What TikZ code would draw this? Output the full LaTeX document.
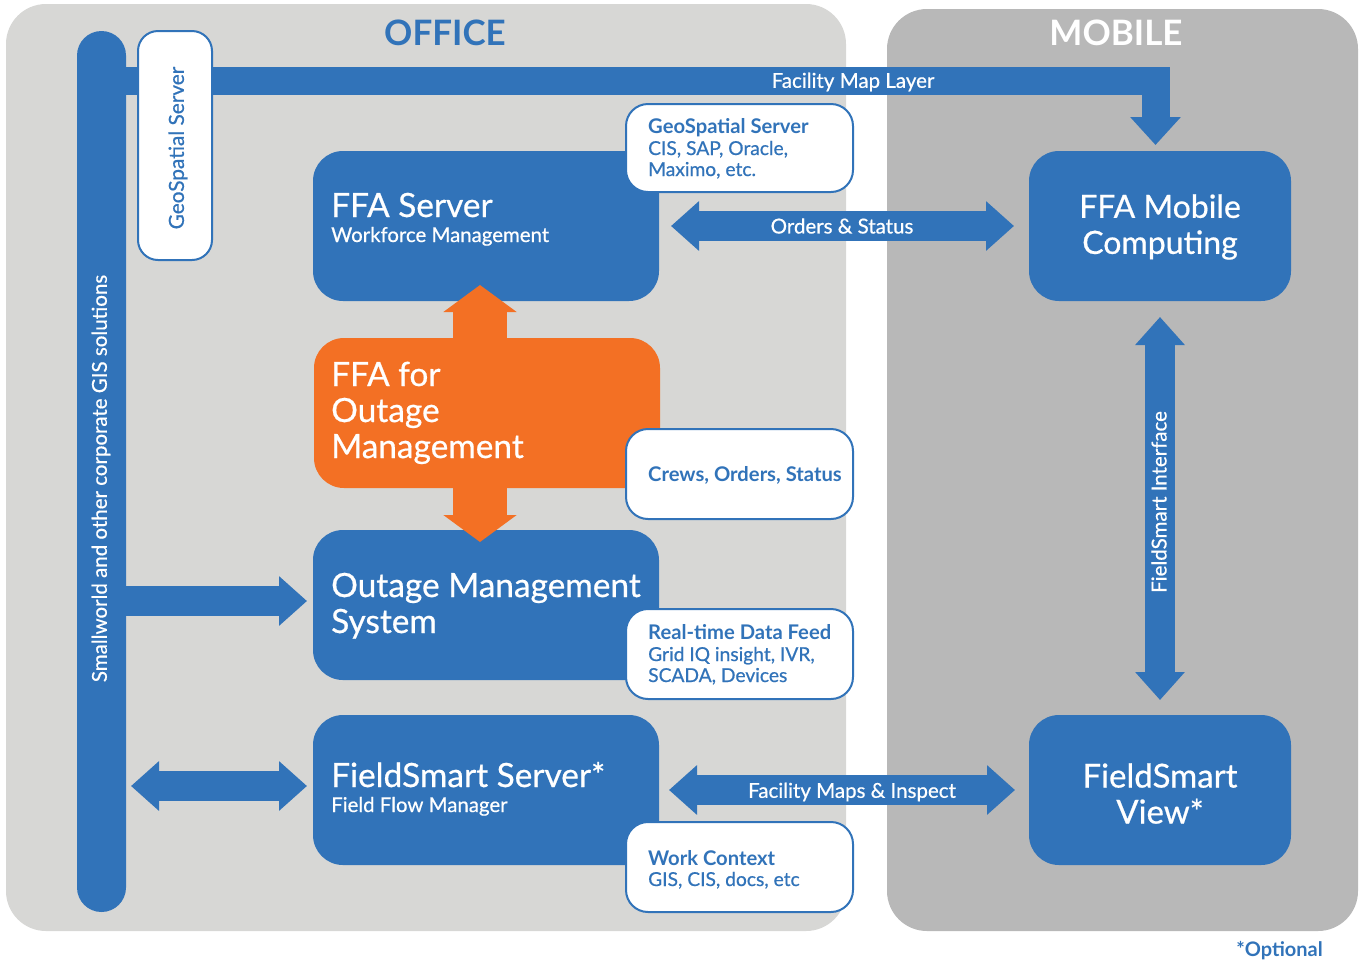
\documentclass[tikz,border=0pt]{standalone}
\usepackage{fontspec}
\setmainfont{Lato}[RawFeature={embolden=0.6},BoldFeatures={RawFeature={embolden=0.0}}]
\usetikzlibrary{arrows.meta}
\definecolor{ge}{HTML}{3173B9}
\definecolor{og}{HTML}{F37024}
\definecolor{off}{HTML}{D7D7D5}
\definecolor{mob}{HTML}{B8B8B8}
\newcommand{\fsz}[1]{\fontsize{#1}{#1}\selectfont}
\tikzset{
  panel/.style={inner sep=0,outer sep=0,rounded corners=40pt},
  sbox/.style={fill=ge,inner sep=0,outer sep=0,rounded corners=30pt},
  callout/.style={fill=white,draw=ge,line width=2pt,inner sep=0,outer sep=0,rounded corners=22pt,minimum width=227pt},
  wtxt/.style={text=white,inner sep=0,anchor=base west},
  btxt/.style={text=ge,inner sep=0,anchor=base west},
  headtxt/.style={inner sep=0,font=\fsz{35}\bfseries},
  midtxt/.style={text=white,inner sep=0,font=\fsz{20.5}},
  ttltxt/.style={font=\fsz{33.4}},
  subtxt/.style={font=\fsz{20.4}},
  captxt/.style={font=\fsz{19.2}},
  capbold/.style={font=\fsz{20.2}\bfseries},
  blockb/.style={draw=ge,line width=30pt,{Triangle[length=28pt,width=48pt]}-{Triangle[length=28pt,width=48pt]}},
  blockf/.style={draw=ge,line width=30pt,-{Triangle[length=28pt,width=48pt]}},
  blocko/.style={draw=og,line width=54pt,{Triangle[length=27pt,width=72pt]}-{Triangle[length=27pt,width=72pt]}},
  blockt/.style={draw=ge,line width=28pt,-{Triangle[length=28pt,width=49pt]}},
}
\begin{document}
\begin{tikzpicture}[x=1pt,y=-1pt]
\useasboundingbox (0,0) rectangle (1359,962);
\node[panel,fill=off,minimum width=840pt,minimum height=927pt] (office) at (426,467.5) {};
\node[panel,fill=mob,minimum width=471pt,minimum height=922pt] (mobile) at (1122.5,470) {};
\node[headtxt,text=ge] (officet) at (445,33) {OFFICE};
\node[headtxt,text=white] (mobilet) at (1116,33) {MOBILE};

\node[fill=ge,inner sep=0,outer sep=0,rounded corners=24.5pt,minimum width=49pt,minimum height=881pt] (gis) at (101.5,471.5) {};
\node[sbox,minimum width=346pt,minimum height=150pt] (ffas) at (486,226) {};
\node[sbox,fill=og,minimum width=346pt,minimum height=150pt] (ffao) at (487,413) {};
\node[sbox,minimum width=346pt,minimum height=150pt] (oms) at (486,605) {};
\node[sbox,minimum width=346pt,minimum height=150pt] (fss) at (486,790) {};
\node[sbox,minimum width=262pt,minimum height=150pt] (ffam) at (1160,226) {};
\node[sbox,minimum width=262pt,minimum height=150pt] (fsv) at (1160,790) {};

\coordinate (rowa) at (0,81);
\coordinate (rowb) at (0,601);
\coordinate (rowc) at (0,786);
\coordinate (cola) at (1155.5,0);
\coordinate (colb) at (480,0);

\draw[blockt,shorten >=6pt] (gis.east |- rowa) -- (cola |- rowa) -- (cola |- ffam.north);
\draw[blockb,shorten <=12pt,shorten >=15pt] (ffas.east) -- (ffam.west);
\draw[blockb,shorten <=10pt,shorten >=14pt] (fss.east) -- (fsv.west);
\draw[blockb,shorten <=16pt,shorten >=15pt] (ffam.south) -- (fsv.north);
\draw[blockf,shorten >=6pt] (gis.east |- rowb) -- (oms.west |- rowb);
\draw[blockb,shorten <=5pt,shorten >=6pt] (gis.east |- rowc) -- (fss.west |- rowc);
\draw[blocko,shorten <=-16pt,shorten >=-12pt] (colb |- ffas.south) -- (colb |- oms.north);

\node[callout,rounded corners=20pt,minimum width=74pt,minimum height=229pt] (geo) at (175,145.5) {};
\node[callout,minimum height=88pt] (c1) at (739.5,148) {};
\node[callout,minimum height=90pt] (c2) at (739.5,474) {};
\node[callout,minimum height=90pt] (c3) at (739.5,654) {};
\node[callout,minimum height=90pt] (c4) at (739.5,867) {};

\node[midtxt,rotate=90] (gist) at (101,478.5) {Smallworld and other corporate GIS solutions};
\node[text=ge,inner sep=0,font=\fsz{20.8},rotate=90] (geot) at (178,148) {GeoSpatial Server};
\node[midtxt] (t1) at (853,82) {Facility Map Layer};
\node[midtxt] (t2) at (842,226) {Orders \& Status};
\node[midtxt] (t3) at (852,792) {Facility Maps \& Inspect};
\node[midtxt,rotate=90] (t4) at (1159,502) {FieldSmart Interface};

\node[wtxt,ttltxt] (a1) at (331,217) {FFA Server};
\node[wtxt,subtxt] (a2) at (331,242) {Workforce Management};
\node[wtxt,ttltxt] (b1) at (331,386) {FFA for};
\node[wtxt,ttltxt] (b2) at (331,422) {Outage};
\node[wtxt,ttltxt] (b3) at (331,458) {Management};
\node[wtxt,ttltxt] (d1) at (331,597) {Outage Management};
\node[wtxt,ttltxt] (d2) at (331,633) {System};
\node[wtxt,ttltxt] (e1) at (331,787) {FieldSmart Server*};
\node[wtxt,subtxt] (e2) at (331,812) {Field Flow Manager};
\node[text=white,inner sep=0,font=\fsz{32},align=center] (f1) at (1160,227) {FFA Mobile\\[4pt]Computing};
\node[text=white,inner sep=0,font=\fsz{33},align=center] (g1) at (1160,793.5) {FieldSmart\\[3pt]View*};

\node[btxt,capbold] (h1) at (648,133) {GeoSpatial Server};
\node[btxt,captxt] (h2) at (648,155) {CIS, SAP, Oracle,};
\node[btxt,captxt] (h3) at (648,176) {Maximo, etc.};
\node[btxt,capbold] (i1) at (648,481) {Crews, Orders, Status};
\node[btxt,capbold] (j1) at (648,639) {Real-time Data Feed};
\node[btxt,captxt] (j2) at (648,661) {Grid IQ insight, IVR,};
\node[btxt,captxt] (j3) at (648,682) {SCADA, Devices};
\node[btxt,capbold] (k1) at (648,865) {Work Context};
\node[btxt,captxt] (k2) at (648,886) {GIS, CIS, docs, etc};
\node[text=ge,inner sep=0,anchor=base east,font=\fsz{20}\bfseries] (opt) at (1323,956) {*Optional};
\end{tikzpicture}
\end{document}
